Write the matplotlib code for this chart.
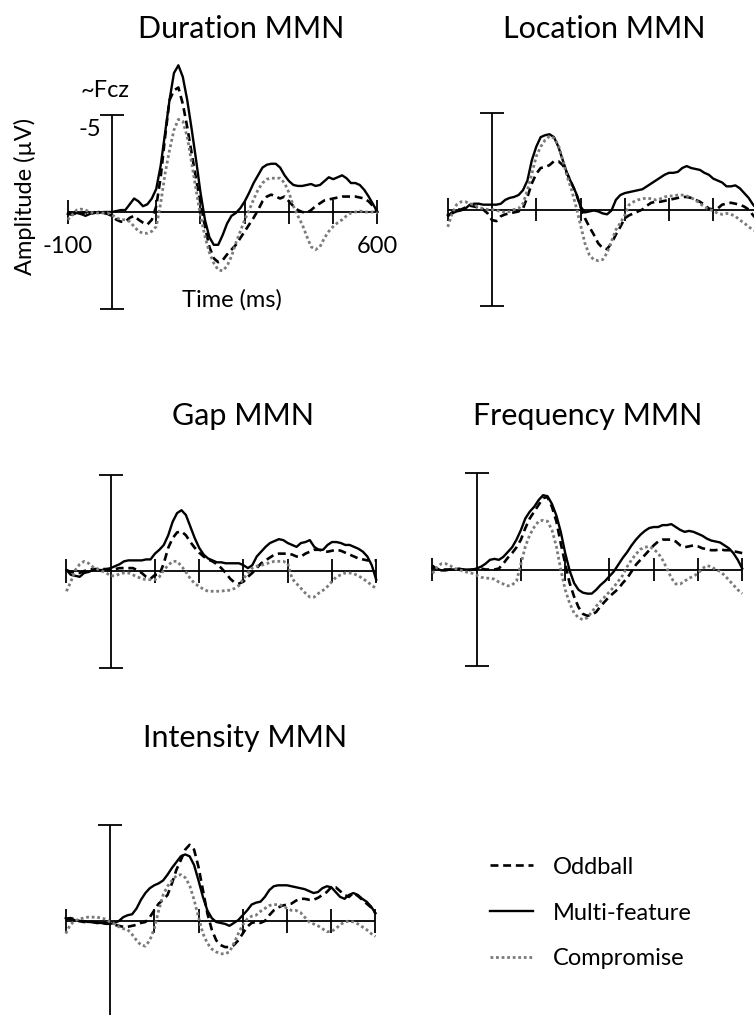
"""MMN difference waves for five deviant types, three paradigms (negative up)."""

import numpy as np
import matplotlib
matplotlib.use("Agg")
import matplotlib.pyplot as plt  # noqa: E402

plt.rcParams.update({"font.family": "Lato", "font.size": 17})

# time base shared by every trace, -100..600 ms in 10 ms steps
T = np.arange(-100, 601, 10)

# amplitudes in µV, one row per 100 ms
DUR_ODD = [0.0, 0.1, 0.05, 0.1, 0.0, 0.1, 0.05, 0.0, 0.05, 0.1,
           0.2, 0.4, 0.5, 0.5, 0.3, 0.2, 0.4, 0.55, 0.65, 0.4,
           -0.3, -1.8, -3.9, -5.8, -6.3, -6.45, -5.6, -4.4, -3.05, -1.7,
           -0.45, 0.75, 1.8, 2.4, 2.6, 2.5, 2.2, 1.95, 1.7, 1.35,
           1.0, 0.65, 0.3, -0.1, -0.55, -0.8, -0.9, -0.8, -0.7, -0.8,
           -0.55, -0.3, -0.1, 0.0, 0.05, -0.1, -0.3, -0.45, -0.6, -0.65,
           -0.7, -0.75, -0.8, -0.8, -0.8, -0.8, -0.75, -0.7, -0.55, -0.3,
           0.0]
DUR_MULTI = [0.1, 0.15, 0.05, 0.1, 0.2, 0.1, 0.0, 0.05, 0.0, 0.0,
             0.0, -0.05, -0.1, -0.1, -0.4, -0.7, -0.55, -0.3, -0.4, -0.7,
             -1.2, -2.4, -4.1, -5.8, -7.2, -7.6, -7.0, -5.8, -4.3, -2.7,
             -1.0, 0.4, 1.3, 1.7, 1.7, 1.2, 0.6, 0.2, 0.05, -0.2,
             -0.55, -1.0, -1.5, -1.9, -2.3, -2.45, -2.5, -2.5, -2.3, -1.9,
             -1.6, -1.4, -1.35, -1.35, -1.4, -1.45, -1.35, -1.4, -1.6, -1.8,
             -1.7, -1.8, -1.9, -1.75, -1.5, -1.5, -1.4, -1.15, -0.8, -0.4,
             0.0]
DUR_COMP = [0.4, 0.15, -0.1, -0.15, -0.1, 0.0, 0.05, 0.05, 0.05, 0.05,
            0.15, 0.3, 0.4, 0.4, 0.5, 0.75, 1.0, 1.1, 1.1, 1.0,
            0.75, -0.45, -2.0, -3.2, -4.25, -4.8, -4.7, -3.9, -2.55, -1.15,
            0.2, 1.25, 2.1, 2.65, 3.0, 3.05, 2.8, 2.3, 1.6, 1.0,
            0.4, -0.1, -0.65, -1.15, -1.5, -1.7, -1.75, -1.75, -1.75, -1.5,
            -1.0, -0.3, 0.2, 0.65, 1.25, 1.8, 1.95, 1.8, 1.35, 1.0,
            0.75, 0.55, 0.4, 0.2, 0.05, 0.0, -0.05, 0.0, 0.0, 0.0,
            0.05]

LOC_ODD = [0.35, 0.15, 0.0, 0.0, -0.1, -0.2, -0.15, -0.1, 0.0, 0.2,
           0.55, 0.6, 0.35, 0.25, 0.2, 0.15, 0.1, -0.05, -0.65, -1.35,
           -1.85, -2.15, -2.2, -2.3, -2.5, -2.5, -2.3, -1.85, -1.35, -0.85,
           -0.15, 0.45, 0.9, 1.3, 1.75, 2.0, 2.05, 1.75, 1.3, 0.9,
           0.45, 0.3, 0.2, 0.1, 0.0, -0.2, -0.35, -0.4, -0.4, -0.45,
           -0.5, -0.55, -0.6, -0.65, -0.65, -0.6, -0.5, -0.4, -0.25, -0.05,
           0.0, -0.05, -0.25, -0.3, -0.35, -0.3, -0.25, -0.15, 0.0, 0.3,
           0.55]
LOC_MULTI = [0.3, 0.2, 0.1, 0.05, -0.05, -0.25, -0.3, -0.3, -0.25, -0.25,
             -0.25, -0.25, -0.3, -0.5, -0.6, -0.65, -0.75, -1.0, -1.5, -2.55,
             -3.25, -3.75, -3.85, -3.9, -3.75, -3.25, -2.55, -1.85, -1.35, -0.85,
             -0.15, 0.15, 0.1, 0.05, 0.1, 0.2, 0.25, 0.05, -0.5, -0.75,
             -0.85, -0.9, -0.95, -1.0, -1.05, -1.2, -1.35, -1.5, -1.65, -1.8,
             -1.9, -1.9, -1.95, -2.15, -2.25, -2.15, -2.1, -2.05, -1.9, -1.8,
             -1.6, -1.5, -1.4, -1.2, -1.2, -1.25, -1.1, -0.85, -0.6, -0.25,
             0.0]
LOC_COMP = [0.9, 0.2, -0.25, -0.4, -0.4, -0.3, -0.25, -0.1, -0.05, 0.0,
            0.0, 0.05, 0.1, 0.15, 0.1, 0.0, -0.05, -0.3, -1.0, -1.85,
            -2.75, -3.25, -3.6, -3.8, -3.7, -3.35, -2.55, -1.7, -1.0, -0.15,
            0.8, 1.75, 2.35, 2.6, 2.65, 2.6, 2.25, 1.65, 1.05, 0.7,
            0.3, -0.25, -0.4, -0.5, -0.55, -0.6, -0.55, -0.5, -0.55, -0.65,
            -0.7, -0.7, -0.75, -0.75, -0.7, -0.6, -0.5, -0.3, -0.15, 0.0,
            0.05, 0.2, 0.25, 0.2, 0.25, 0.35, 0.55, 0.7, 0.9, 1.05,
            1.15]

GAP_ODD = [-0.05, 0.05, 0.1, 0.1, 0.0, -0.05, -0.1, -0.1, -0.1, -0.1,
           -0.05, -0.1, -0.15, -0.15, -0.15, -0.15, -0.05, 0.1, 0.3, 0.4,
           0.2, 0.2, -0.4, -1.2, -1.7, -2.0, -2.05, -1.85, -1.5, -1.2,
           -0.95, -0.75, -0.6, -0.5, -0.35, -0.15, 0.1, 0.4, 0.6, 0.65,
           0.55, 0.3, 0.1, -0.15, -0.4, -0.55, -0.7, -0.85, -0.9, -0.9,
           -0.9, -0.85, -0.75, -0.75, -0.9, -1.0, -1.1, -1.1, -1.05, -1.0,
           -1.05, -1.1, -1.05, -0.95, -0.85, -0.75, -0.65, -0.6, -0.55, -0.55,
           -0.55]
GAP_MULTI = [-0.05, 0.2, 0.25, 0.3, 0.1, 0.05, -0.05, -0.05, -0.05, -0.1,
             -0.15, -0.25, -0.35, -0.5, -0.55, -0.55, -0.55, -0.55, -0.6, -0.6,
             -0.9, -1.1, -1.35, -1.85, -2.55, -3.0, -3.15, -2.9, -2.3, -1.7,
             -1.2, -0.85, -0.65, -0.55, -0.45, -0.45, -0.4, -0.4, -0.4, -0.4,
             -0.3, -0.15, -0.3, -0.75, -1.0, -1.25, -1.45, -1.55, -1.65, -1.6,
             -1.45, -1.35, -1.25, -1.45, -1.5, -1.6, -1.25, -1.1, -1.1, -1.35,
             -1.5, -1.5, -1.45, -1.35, -1.35, -1.25, -1.15, -1.0, -0.75, -0.3,
             0.45]
GAP_COMP = [1.05, 0.55, -0.05, -0.35, -0.5, -0.4, -0.2, -0.1, 0.0, 0.1,
            0.25, 0.25, 0.15, 0.1, 0.1, 0.2, 0.3, 0.4, 0.45, 0.45,
            0.45, 0.3, -0.05, -0.3, -0.5, -0.5, -0.25, 0.05, 0.4, 0.65,
            0.8, 0.95, 1.05, 1.05, 1.05, 1.05, 1.0, 1.0, 0.9, 0.75,
            0.4, 0.1, -0.15, -0.25, -0.3, -0.35, -0.45, -0.5, -0.5, -0.5,
            -0.4, 0.4, 0.65, 0.9, 1.15, 1.35, 1.35, 1.15, 1.0, 0.8,
            0.55, 0.3, 0.2, 0.1, 0.1, 0.15, 0.25, 0.4, 0.55, 0.75,
            0.9]

FREQ_ODD = [-0.2, 0.0, 0.0, 0.0, 0.0, 0.0, 0.0, 0.0, 0.05, 0.0,
            0.0, -0.05, 0.0, 0.0, 0.0, -0.05, -0.3, -0.6, -0.85, -1.15,
            -1.55, -2.15, -2.65, -3.0, -3.35, -3.7, -3.75, -3.25, -2.5, -1.35,
            -0.3, 0.7, 1.4, 1.95, 2.3, 2.4, 2.35, 2.2, 1.9, 1.65,
            1.4, 1.2, 1.0, 0.7, 0.45, 0.1, -0.25, -0.5, -0.75, -1.0,
            -1.25, -1.45, -1.55, -1.55, -1.55, -1.45, -1.25, -1.15, -1.2, -1.25,
            -1.2, -1.1, -1.05, -1.0, -1.0, -1.05, -1.0, -1.0, -0.95, -0.9,
            -0.85]
FREQ_MULTI = [-0.1, -0.05, 0.05, 0.05, 0.0, 0.0, -0.05, 0.0, 0.0, 0.0,
              -0.05, -0.15, -0.3, -0.5, -0.55, -0.5, -0.65, -0.9, -1.15, -1.55,
              -2.05, -2.65, -3.0, -3.25, -3.6, -3.85, -3.8, -3.4, -2.8, -1.95,
              -0.85, 0.05, 0.7, 1.05, 1.2, 1.25, 1.25, 1.05, 0.8, 0.6,
              0.35, 0.1, -0.25, -0.6, -0.9, -1.25, -1.55, -1.8, -2.0, -2.15,
              -2.2, -2.2, -2.3, -2.3, -2.35, -2.2, -2.05, -1.95, -2.0, -1.95,
              -1.85, -1.75, -1.6, -1.5, -1.45, -1.4, -1.25, -1.1, -0.85, -0.5,
              -0.05]
FREQ_COMP = [0.2, -0.1, -0.3, -0.3, -0.2, -0.05, 0.0, 0.1, 0.15, 0.2,
             0.3, 0.4, 0.45, 0.45, 0.5, 0.65, 0.75, 0.85, 0.8, 0.6,
             -0.3, -1.2, -1.8, -2.2, -2.5, -2.55, -2.5, -2.05, -1.2, 0.0,
             1.05, 1.75, 2.25, 2.5, 2.6, 2.5, 2.2, 1.9, 1.65, 1.4,
             1.15, 0.9, 0.6, 0.3, -0.15, -0.5, -0.8, -1.05, -1.15, -1.2,
             -1.05, -0.85, -0.5, -0.05, 0.45, 0.75, 0.75, 0.6, 0.45, 0.35,
             0.2, -0.05, -0.2, -0.15, 0.0, 0.1, 0.3, 0.55, 0.8, 1.05,
             1.25]

INT_ODD = [-0.1, -0.15, -0.1, 0.0, 0.05, 0.05, 0.05, 0.1, 0.1, 0.1,
           0.15, 0.2, 0.25, 0.3, 0.3, 0.25, 0.2, 0.1, 0.05, -0.2,
           -0.55, -0.9, -1.1, -1.35, -1.95, -2.65, -3.15, -3.7, -3.95, -3.7,
           -2.8, -1.6, -0.4, 0.45, 1.0, 1.25, 1.35, 1.35, 1.25, 1.0,
           0.65, 0.3, 0.1, 0.05, 0.1, 0.0, -0.3, -0.55, -0.7, -0.8,
           -0.85, -0.9, -1.05, -1.15, -1.15, -1.1, -1.1, -1.2, -1.35, -1.5,
           -1.75, -1.75, -1.55, -1.35, -1.25, -1.45, -1.3, -1.1, -0.9, -0.7,
           -0.4]
INT_MULTI = [-0.15, -0.1, -0.05, 0.0, 0.0, 0.05, 0.05, 0.1, 0.1, 0.15,
             0.15, 0.1, 0.0, -0.2, -0.3, -0.35, -0.65, -1.1, -1.45, -1.7,
             -1.85, -1.95, -2.1, -2.4, -2.75, -3.05, -3.35, -3.45, -3.35, -2.9,
             -2.1, -1.25, -0.55, -0.15, 0.05, 0.1, 0.15, 0.25, 0.1, -0.05,
             -0.3, -0.55, -0.85, -0.95, -1.0, -1.25, -1.6, -1.8, -1.85, -1.85,
             -1.85, -1.8, -1.75, -1.7, -1.65, -1.55, -1.45, -1.5, -1.7, -1.8,
             -1.75, -1.5, -1.25, -1.15, -1.35, -1.45, -1.35, -1.15, -1.0, -0.75,
             -0.4]
INT_COMP = [0.65, 0.2, 0.0, -0.1, -0.15, -0.2, -0.2, -0.2, -0.15, -0.1,
            0.05, 0.15, 0.3, 0.4, 0.45, 0.7, 1.0, 1.25, 1.3, 1.0,
            0.4, -0.55, -1.35, -1.8, -2.1, -2.35, -2.4, -2.25, -1.85, -1.1,
            -0.2, 0.65, 1.15, 1.45, 1.6, 1.7, 1.7, 1.6, 1.15, 0.65,
            0.2, -0.1, -0.25, -0.3, -0.5, -0.65, -0.8, -0.85, -0.85, -0.8,
            -0.65, -0.55, -0.55, -0.45, -0.2, 0.05, 0.15, 0.25, 0.4, 0.55,
            0.55, 0.4, 0.2, 0.05, 0.0, 0.05, 0.15, 0.3, 0.45, 0.65,
            0.8]

TITLES = ["Duration MMN", "Location MMN", "Gap MMN", "Frequency MMN", "Intensity MMN"]
WAVES = [(DUR_ODD, DUR_MULTI, DUR_COMP), (LOC_ODD, LOC_MULTI, LOC_COMP),
         (GAP_ODD, GAP_MULTI, GAP_COMP), (FREQ_ODD, FREQ_MULTI, FREQ_COMP),
         (INT_ODD, INT_MULTI, INT_COMP)]
PARADIGMS = ["Oddball", "Multi-feature", "Compromise"]
TICKS_MS = [-100, 100, 200, 300, 400, 500, 600]
SCALE_UV = 5

# figure geometry (pixels): origin of each panel, title centre and baseline
W, H = 754, 1015
SX, SY = 0.4425, 19.3            # px per ms, px per µV
XL, YL = (-140, 640), (-9.5, 6.5)
ORIGINS = [(112, 212), (492, 209.5), (110.7, 571), (476.7, 569.5), (110, 921)]
TITLE_POS = [(241, 38), (604, 38), (243, 425), (588, 425), (245, 747)]

STYLES = [dict(color="black", lw=1.9, ls=(0, (3.0, 1.8))),
          dict(color="black", lw=1.7, ls="-"),
          dict(color="#7a7a7a", lw=2.0, ls=(0, (1, 1)))]
AXIS = dict(color="black", lw=1.3, solid_capstyle="butt")


def panel_axes(fig, ox, oy):
    left, right = ox + XL[0] * SX, ox + XL[1] * SX
    top, bottom = oy + YL[0] * SY, oy + YL[1] * SY
    ax = fig.add_axes([left / W, 1 - bottom / H, (right - left) / W, (bottom - top) / H])
    ax.set_xlim(*XL)
    ax.set_ylim(YL[1], YL[0])     # negative up
    ax.axis("off")
    return ax


fig = plt.figure(figsize=(W / 100, H / 100), dpi=100)
lines = []
for i, (title, waves) in enumerate(zip(TITLES, WAVES)):
    ax = panel_axes(fig, *ORIGINS[i])
    # axes cross: time line with ticks, amplitude bar with caps
    ax.plot([T[0], T[-1]], [0, 0], clip_on=False, **AXIS)
    for t in TICKS_MS:
        ax.plot([t, t], [-0.6, 0.6], clip_on=False, **AXIS)
    ax.plot([0, 0], [-SCALE_UV, SCALE_UV], clip_on=False, **AXIS)
    for v in (-SCALE_UV, SCALE_UV):
        ax.plot([-27, 27], [v, v], clip_on=False, **AXIS)
    for y, st, name in zip(waves, STYLES, PARADIGMS):
        ln, = ax.plot(T, y, clip_on=False, label=name, **st)
        if i == 0:
            lines.append(ln)
    fig.text(TITLE_POS[i][0] / W, 1 - TITLE_POS[i][1] / H, title,
             ha="center", va="baseline", fontsize=22)
    if i == 0:
        ax.text(-16, -6.3, "~Fcz", ha="center", va="center")
        ax.text(-25, -4.3, f"-{SCALE_UV}", ha="right", va="center")
        ax.text(-100, 1.8, "-100", ha="center", va="center")
        ax.text(600, 1.8, "600", ha="center", va="center")
        ax.text(272, 4.55, "Time (ms)", ha="center", va="center")
        ax.text(-197, -0.8, "Amplitude (µV)", ha="center", va="center", rotation=90)

fig.legend(handles=lines, labels=PARADIGMS, loc="center left",
           bbox_to_anchor=(490 / W, 1 - 913 / H), frameon=False,
           borderpad=0, borderaxespad=0, handlelength=1.8, handletextpad=0.85,
           labelspacing=1.05, fontsize=17)

fig.savefig("out.png", dpi=100)
